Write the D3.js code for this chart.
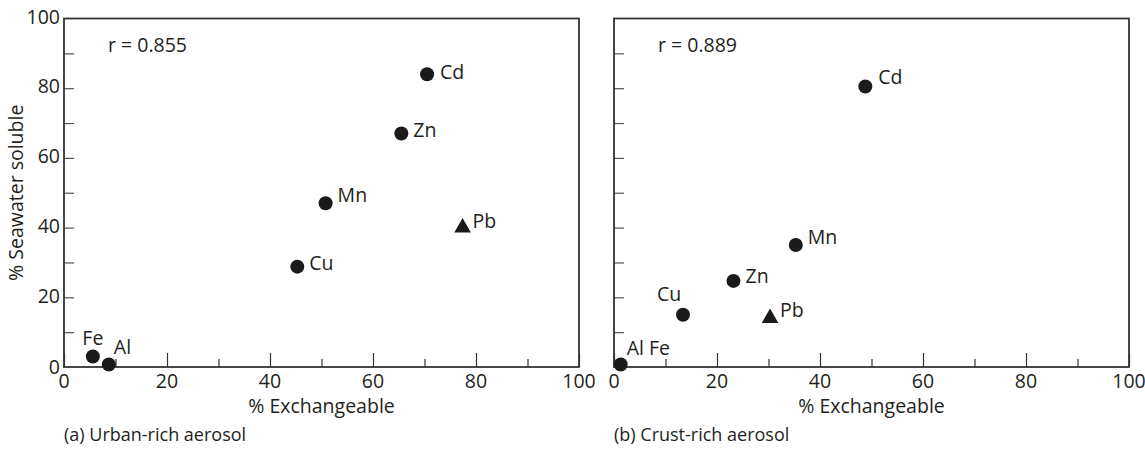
<!DOCTYPE html>
<html>
<head>
<meta charset="utf-8">
<script src="https://cdn.jsdelivr.net/npm/d3@7"></script>
<style>
  html, body { margin: 0; padding: 0; background: #fff; }
  svg text { font-family: "Open Sans", "Noto Sans", sans-serif; fill: #231f20; }
</style>
</head>
<body>
<svg id="chart" width="1145" height="457"></svg>
<script>
// Panel (a): urban-rich aerosol
const elementsA = ["Cd", "Zn", "Mn", "Pb", "Cu", "Fe", "Al"];
const exchangeableA = [70.5, 65.5, 50.8, 77.4, 45.3, 5.6, 8.7];
const solubleA = [84, 67, 47, 40, 28.8, 3, 0.7];
const markersA = ["circle", "circle", "circle", "triangle", "circle", "circle", "circle"];

// Panel (b): crust-rich aerosol
const elementsB = ["Cd", "Mn", "Zn", "Pb", "Cu", "Al Fe"];
const exchangeableB = [48.8, 35.3, 23.2, 30.3, 13.4, 1.3];
const solubleB = [80.5, 35, 24.7, 14, 15, 0.7];
const markersB = ["circle", "circle", "circle", "triangle", "circle", "circle"];

const correlations = ["r = 0.855", "r = 0.889"];
const captions = ["(a) Urban-rich aerosol", "(b) Crust-rich aerosol"];
const xTickValues = [0, 20, 40, 60, 80, 100];
const yTickValues = [0, 20, 40, 60, 80, 100];
const xLabel = "% Exchangeable";
const yLabel = "% Seawater soluble";

// Label placement relative to each marker (pixels)
const labelPlacementA = {
  Cd: [13, 0, "start"], Zn: [12, -2, "start"], Mn: [12, -6, "start"],
  Pb: [10, -5, "start"], Cu: [12, -2, "start"], Fe: [0, -17, "middle"], Al: [5, -16, "start"]
};
const labelPlacementB = {
  Cd: [13, -8, "start"], Mn: [12, -6, "start"], Zn: [12, -3, "start"],
  Pb: [10, -6, "start"], Cu: [-14, -19, "middle"], "Al Fe": [6, -15, "start"]
};

const svg = d3.select("#chart");
const frameColor = "#333";
const fontSize = 19.5;
const plotTop = 18.5, plotBottom = 367;

const panels = [
  { left: 64, right: 579, names: elementsA, xs: exchangeableA, ys: solubleA, markers: markersA,
    place: labelPlacementA, r: correlations[0], caption: captions[0], yTickLabels: true },
  { left: 614, right: 1129, names: elementsB, xs: exchangeableB, ys: solubleB, markers: markersB,
    place: labelPlacementB, r: correlations[1], caption: captions[1], yTickLabels: false }
];

const dotSymbol = d3.symbol().type(d3.symbolCircle).size(Math.PI * 7 * 7);
const triSymbol = d3.symbol().type(d3.symbolTriangle).size(120);

panels.forEach(p => {
  const x = d3.scaleLinear().domain([0, 100]).range([p.left, p.right]);
  const y = d3.scaleLinear().domain([0, 100]).range([plotBottom, plotTop]);
  const g = svg.append("g");

  // Minor ticks every 10 units, majors every 20
  const minor = d3.range(10, 100, 20);

  // x axis: inward ticks
  const xAxis = g.append("g").attr("transform", `translate(0,${plotBottom})`)
    .call(d3.axisTop(x).tickValues(xTickValues).tickSize(14).tickFormat(""));
  xAxis.select(".domain").remove();
  xAxis.selectAll("line").attr("stroke", frameColor).attr("stroke-width", 1.2);
  const xMinor = g.append("g").attr("transform", `translate(0,${plotBottom})`)
    .call(d3.axisTop(x).tickValues(minor).tickSize(8).tickFormat(""));
  xMinor.select(".domain").remove();
  xMinor.selectAll("line").attr("stroke", frameColor).attr("stroke-width", 1.2);

  g.selectAll(".xlab").data(xTickValues).join("text")
    .attr("x", d => x(d)).attr("y", plotBottom + 16)
    .attr("text-anchor", "middle").attr("dominant-baseline", "middle")
    .attr("font-size", fontSize).text(d => d);

  // y axis: inward ticks
  const yAxis = g.append("g").attr("transform", `translate(${p.left},0)`)
    .call(d3.axisRight(y).tickValues(d3.range(10, 100, 10)).tickSize(10).tickFormat(""));
  yAxis.select(".domain").remove();
  yAxis.selectAll("line").attr("stroke", "#555").attr("stroke-width", 1.2);

  if (p.yTickLabels) {
    g.selectAll(".ylab").data(yTickValues).join("text")
      .attr("x", p.left - 4).attr("y", d => y(d) + (d === 0 ? 2 : 0))
      .attr("text-anchor", "end").attr("dominant-baseline", "middle")
      .attr("font-size", fontSize).text(d => d);
    svg.append("text")
      .attr("transform", `translate(18,${(plotTop + plotBottom) / 2}) rotate(-90)`)
      .attr("text-anchor", "middle").attr("dominant-baseline", "middle")
      .attr("font-size", fontSize).text(yLabel);
  }

  // frame
  g.append("rect")
    .attr("x", p.left).attr("y", plotTop)
    .attr("width", p.right - p.left).attr("height", plotBottom - plotTop)
    .attr("fill", "none").attr("stroke", frameColor).attr("stroke-width", 1.8);

  // axis title and caption
  g.append("text").attr("x", (p.left + p.right) / 2).attr("y", plotBottom + 41)
    .attr("text-anchor", "middle").attr("dominant-baseline", "middle")
    .attr("font-size", fontSize).text(xLabel);
  g.append("text").attr("x", p.left).attr("y", plotBottom + 69)
    .attr("text-anchor", "start").attr("dominant-baseline", "middle")
    .attr("font-size", 18).text(p.caption);

  // correlation coefficient
  g.append("text").attr("x", p.left + 44).attr("y", plotTop + 28)
    .attr("dominant-baseline", "middle").attr("font-size", fontSize).text(p.r);

  // points
  const pts = p.names.map((n, i) => ({ name: n, vx: p.xs[i], vy: p.ys[i], m: p.markers[i] }));
  g.selectAll(".pt").data(pts).join("path")
    .attr("d", d => d.m === "triangle" ? triSymbol() : dotSymbol())
    .attr("transform", d => `translate(${x(d.vx)},${y(d.vy)})`)
    .attr("fill", "#1a1a1a");

  g.selectAll(".ptlab").data(pts).join("text")
    .attr("x", d => x(d.vx) + p.place[d.name][0])
    .attr("y", d => y(d.vy) + p.place[d.name][1])
    .attr("text-anchor", d => p.place[d.name][2])
    .attr("dominant-baseline", "middle")
    .attr("font-size", fontSize).text(d => d.name);
});
</script>
</body>
</html>
